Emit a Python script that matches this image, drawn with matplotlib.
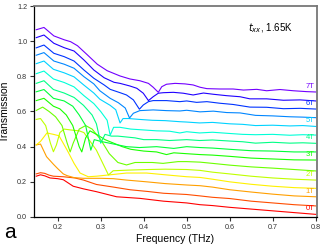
import matplotlib
matplotlib.use('Agg')
import matplotlib.pyplot as plt

plt.rcParams['font.family'] = ['Liberation Sans', 'DejaVu Sans']

# field values (T) and the transmission curves
fields = [0, 0.5, 1, 1.5, 2, 2.5, 3, 3.5, 4, 4.5, 5, 5.5, 6, 6.5, 7]
label_fields = [0, 1, 2, 3, 4, 5, 6, 7]

f_0T = [.15, .16, .17, .182, .2, .213, .236, .26, .29, .337, .391, .446, .5, .531, .56, .6, .65, .7, .75, .8]
t_0T = [.232, .24, .234, .222, .218, .212, .175, .16, .144, .115, .106, .09, .08, .07, .065, .055, .045, .035, .025, .015]

f_05T = [.15, .16, .17, .18, .19, .213, .24, .26, .29, .33, .368, .41, .446, .5, .531, .56, .6, .65, .7, .75, .8]
t_05T = [.245, .252, .248, .238, .232, .229, .222, .21, .185, .17, .155, .145, .135, .128, .12, .112, .105, .09, .08, .07, .063]

f_1T = [.15, .16, .174, .19, .2, .213, .222, .238, .26, .3, .329, .36, .407, .45, .5, .531, .56, .6, .65, .7, .75, .8]
t_1T = [.41, .415, .343, .30, .275, .245, .235, .224, .22, .22, .218, .21, .2, .19, .182, .178, .17, .155, .142, .13, .12, .115]

f_15T = [.15, .16, .175, .19, .203, .222, .238, .252, .271, .29, .322, .36, .407, .45, .5, .531, .56, .6, .65, .7, .75, .8]
t_15T = [.41, .43, .478, .47, .462, .38, .305, .25, .229, .232, .24, .25, .25, .24, .229, .225, .215, .2, .186, .175, .167, .163]

f_2T = [.15, .16, .172, .183, .19, .197, .205, .215, .23, .25, .261, .29, .318, .329, .368, .41, .45, .5, .531, .56, .6, .65, .7, .75, .8]
t_2T = [.555, .56, .52, .42, .371, .41, .48, .50, .495, .49, .48, .38, .239, .263, .267, .27, .272, .27, .265, .255, .245, .232, .222, .215, .21]

f_25T = [.15, .165, .18, .195, .21, .222, .229, .236, .25, .265, .28, .30, .32, .34, .36, .38, .42, .445, .48, .5, .531, .56, .6, .65, .7, .75, .8]
t_25T = [.606, .625, .60, .57, .52, .42, .37, .42, .50, .52, .50, .44, .36, .31, .296, .31, .31, .305, .315, .315, .312, .305, .295, .285, .278, .27, .262]

f_3T = [.15, .168, .19, .205, .22, .235, .25, .256, .265, .275, .29, .31, .33, .35, .37, .40, .43, .453, .47, .5, .531, .56, .6, .65, .7, .75, .8]
t_3T = [.662, .675, .63, .615, .58, .52, .40, .37, .45, .49, .47, .44, .42, .40, .385, .375, .37, .355, .365, .36, .355, .352, .345, .335, .33, .325, .324]

f_35T = [.15, .168, .19, .215, .235, .25, .265, .277, .285, .30, .32, .34, .36, .39, .43, .47, .5, .531, .56, .6, .65, .7, .75, .8]
t_35T = [.712, .725, .675, .66, .63, .58, .52, .38, .44, .43, .42, .41, .40, .395, .40, .39, .40, .395, .392, .385, .377, .375, .37, .37]

f_4T = [.15, .168, .19, .215, .238, .26, .28, .29, .30, .31, .325, .34, .36, .38, .40, .43, .46, .5, .53, .56, .6, .63, .66, .7, .74, .77, .8]
t_4T = [.76, .775, .725, .705, .68, .635, .58, .53, .42, .47, .46, .46, .455, .45, .44, .44, .435, .44, .435, .438, .432, .428, .42, .425, .42, .422, .419]

f_45T = [.15, .168, .19, .215, .238, .261, .284, .30, .315, .322, .33, .345, .37, .40, .43, .46, .484, .5, .53, .56, .6, .63, .66, .7, .74, .77, .8]
t_45T = [.815, .83, .785, .765, .74, .69, .645, .60, .55, .465, .51, .51, .50, .495, .49, .488, .478, .485, .478, .482, .475, .47, .468, .47, .465, .468, .466]

f_5T = [.15, .168, .19, .215, .238, .261, .284, .298, .322, .335, .345, .352, .365, .39, .42, .45, .484, .5, .53, .56, .6, .63, .66, .7, .74, .77, .8]
t_5T = [.872, .887, .84, .82, .797, .75, .705, .67, .635, .61, .535, .56, .56, .555, .55, .548, .542, .54, .535, .538, .53, .527, .52, .522, .518, .52, .515]

f_55T = [.15, .168, .191, .215, .238, .261, .284, .298, .322, .341, .357, .367, .376, .391, .422, .453, .484, .5, .531, .562, .593, .624, .66, .7, .74, .77, .8]
t_55T = [.92, .935, .887, .869, .846, .798, .757, .718, .675, .65, .62, .563, .59, .605, .609, .605, .603, .607, .598, .602, .594, .592, .578, .575, .57, .568, .565]

f_6T = [.15, .168, .191, .215, .238, .261, .284, .308, .322, .345, .36, .376, .39, .399, .411, .422, .453, .484, .5, .523, .547, .577, .608, .647, .686, .725, .764, .8]
t_6T = [.962, .978, .931, .912, .887, .836, .789, .751, .726, .707, .694, .666, .613, .637, .656, .662, .662, .656, .66, .652, .656, .647, .64, .625, .624, .616, .618, .614]

f_65T = [.15, .168, .191, .215, .238, .261, .284, .308, .331, .345, .368, .384, .399, .411, .422, .434, .446, .469, .492, .515, .539, .562, .593, .624, .647, .686, .725, .764, .8]
t_65T = [1.02, 1.035, .988, .963, .944, .893, .836, .792, .766, .76, .745, .732, .704, .662, .684, .704, .707, .709, .704, .694, .705, .698, .69, .684, .672, .672, .664, .666, .66]

f_7T = [.15, .168, .191, .215, .23, .246, .269, .292, .315, .345, .368, .391, .411, .422, .434, .442, .453, .473, .496, .515, .531, .547, .577, .608, .632, .663, .686, .717, .748, .779, .8]
t_7T = [1.065, 1.078, 1.03, 1.008, .997, .974, .922, .869, .832, .802, .785, .775, .76, .738, .709, .741, .755, .76, .757, .751, .738, .73, .728, .728, .722, .726, .718, .725, .718, .713, .711]

freqs = [f_0T, f_05T, f_1T, f_15T, f_2T, f_25T, f_3T, f_35T, f_4T, f_45T, f_5T, f_55T, f_6T, f_65T, f_7T]
trans = [t_0T, t_05T, t_1T, t_15T, t_2T, t_25T, t_3T, t_35T, t_4T, t_45T, t_5T, t_55T, t_6T, t_65T, t_7T]

cmap = plt.get_cmap('hsv')

fig = plt.figure(figsize=(3.34, 2.45), dpi=100)
ax = fig.add_axes([0.102, 0.1143, 0.847, 0.8612])

for B, f, t in zip(fields, freqs, trans):
    c = cmap(B / 7 * 0.75)
    ax.plot(f, t, color=c, lw=0.8, solid_joinstyle='round')
    if B in label_fields:
        ax.text(0.797, t[-1] + 0.012, '%dT' % B, color=c,
                fontsize=5.5, ha='right', va='bottom')

ax.text(0.643, 1.075, r'$t_{xx}$, 1.65K', fontsize=7, va='center')

ax.set_xlim(0.145, 0.803)
ax.set_ylim(0, 1.2)
ax.set_xticks([0.2, 0.3, 0.4, 0.5, 0.6, 0.7, 0.8])
ax.set_yticks([0.0, 0.2, 0.4, 0.6, 0.8, 1.0, 1.2])
ax.set_xticklabels(['0.2', '0.3', '0.4', '0.5', '0.6', '0.7', '0.8'])
ax.set_yticklabels(['0.0', '0.2', '0.4', '0.6', '0.8', '1.0', '1.2'])
ax.tick_params(direction='out', length=3, width=0.8, labelsize=5.2, colors='#333333', pad=2)
for s in ['top', 'right']:
    ax.spines[s].set_color('#777777')
    ax.spines[s].set_linewidth(1.3)
for s in ['left', 'bottom']:
    ax.spines[s].set_color('black')
    ax.spines[s].set_linewidth(0.9)

ax.set_xlabel('Frequency (THz)', fontsize=7.5, labelpad=2.5)
ax.set_ylabel('Transmission', fontsize=7.5, labelpad=5)
fig.text(0.012, 0.03, 'a', fontsize=15)

fig.savefig('out.png', dpi=100)
